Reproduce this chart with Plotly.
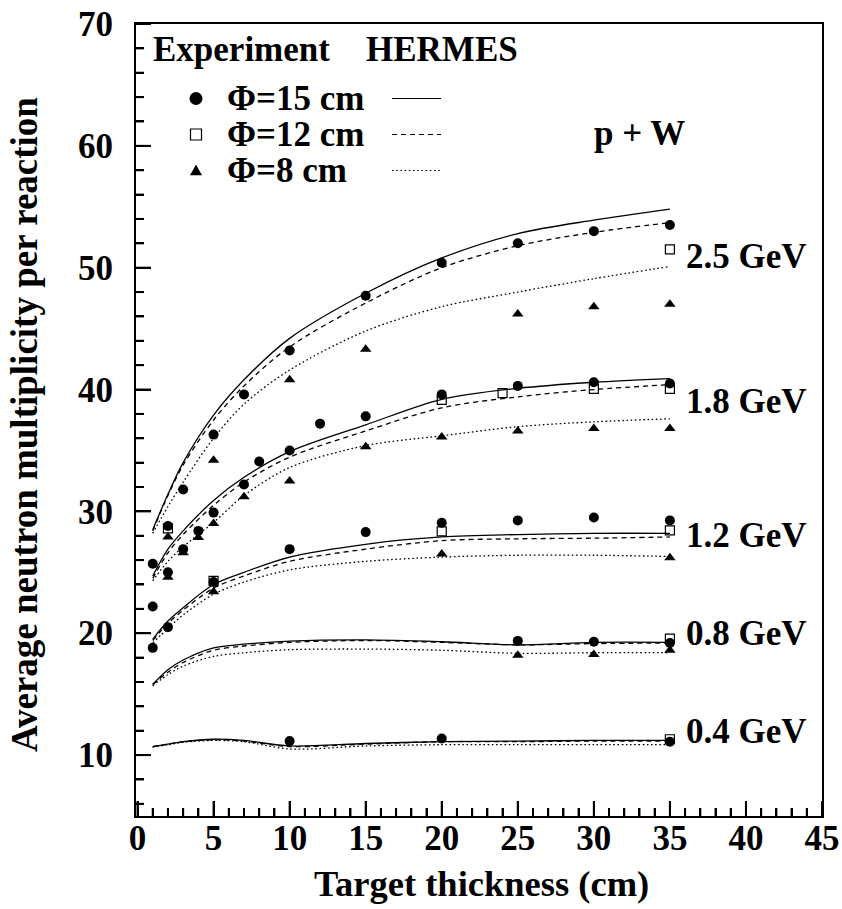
import plotly.graph_objects as go

# ---------------- data ----------------
CURVE_X = [1, 2, 3, 5, 7, 10, 15, 20, 25, 30, 35]

# model curves: solid = 15 cm, dashed = 12 cm, dotted = 8 cm
E25_15 = [28.5, 31.4, 34.0, 37.9, 40.8, 44.2, 47.9, 50.8, 52.8, 53.9, 54.8]
E25_12 = [28.4, 31.3, 33.8, 37.5, 40.3, 43.5, 47.1, 50.0, 51.8, 52.9, 53.7]
E25_8 = [28.2, 30.4, 32.4, 36.0, 38.8, 41.6, 44.8, 46.8, 48.0, 49.1, 50.1]

E18_15 = [24.7, 26.9, 28.4, 30.9, 32.8, 34.9, 37.1, 39.2, 40.1, 40.6, 40.9]
E18_12 = [24.5, 26.6, 28.1, 30.5, 32.4, 34.45, 36.6, 38.5, 39.4, 40.0, 40.4]
E18_8 = [24.3, 25.9, 27.1, 29.1, 31.3, 33.6, 35.4, 36.2, 36.95, 37.35, 37.6]

E12_15 = [19.5, 21.0, 22.1, 24.0, 25.0, 26.25, 27.3, 27.9, 28.1, 28.2, 28.2]
E12_12 = [19.4, 20.8, 21.9, 23.7, 24.7, 25.9, 26.9, 27.6, 27.75, 27.8, 27.9]
E12_8 = [19.2, 20.4, 21.5, 23.2, 24.2, 25.2, 25.9, 26.25, 26.4, 26.4, 26.3]

E08_15 = [15.8, 17.0, 17.8, 18.8, 19.1, 19.35, 19.45, 19.3, 19.05, 19.25, 19.25]
E08_12 = [15.8, 16.8, 17.6, 18.6, 18.95, 19.25, 19.4, 19.25, 19.05, 19.15, 19.2]
E08_8 = [15.7, 16.6, 17.3, 18.1, 18.4, 18.65, 18.7, 18.6, 18.35, 18.4, 18.4]

E04_15 = [10.7, 10.9, 11.1, 11.3, 11.2, 10.75, 10.95, 11.1, 11.15, 11.2, 11.2]
E04_12 = [10.7, 10.9, 11.1, 11.25, 11.15, 10.7, 10.9, 11.1, 11.1, 11.15, 11.15]
E04_8 = [10.65, 10.85, 11.05, 11.2, 11.1, 10.5, 10.75, 10.85, 10.85, 10.85, 10.85]

# experiment points (HERMES)
C25_X = [1, 2, 3, 5, 7, 10, 15, 20, 25, 30, 35]
C25_Y = [25.7, 28.8, 31.8, 36.3, 39.6, 43.2, 47.7, 50.4, 52.0, 53.0, 53.5]
S25_X = [2, 35]
S25_Y = [28.6, 51.5]
T25_X = [2, 5, 10, 15, 25, 30, 35]
T25_Y = [27.9, 34.2, 40.8, 43.3, 46.2, 46.8, 47.0]

C18_X = [1, 2, 3, 4, 5, 7, 8, 10, 12, 15, 20, 25, 30, 35]
C18_Y = [22.2, 25.0, 26.9, 28.4, 29.9, 32.2, 34.1, 35.0, 37.2, 37.8, 39.6, 40.3, 40.6, 40.5]
S18_X = [20, 24, 30, 35]
S18_Y = [39.15, 39.7, 40.05, 40.05]
T18_X = [2, 3, 4, 5, 7, 10, 15, 20, 25, 30, 35]
T18_Y = [24.6, 26.6, 27.85, 29.0, 31.2, 32.5, 35.3, 36.1, 36.6, 36.8, 36.8]

C12_X = [1, 2, 5, 10, 15, 20, 25, 30, 35]
C12_Y = [18.8, 20.5, 24.2, 26.9, 28.3, 29.07, 29.26, 29.5, 29.26]
S12_X = [5, 20, 35]
S12_Y = [24.3, 28.36, 28.44]
T12_X = [5, 20, 35]
T12_Y = [23.4, 26.5, 26.2]

C08_X = [25, 30, 35]
C08_Y = [19.37, 19.3, 19.2]
S08_X = [35]
S08_Y = [19.56]
T08_X = [25, 30, 35]
T08_Y = [18.2, 18.25, 18.6]

C04_X = [10, 20, 35]
C04_Y = [11.15, 11.36, 11.1]
S04_X = [35]
S04_Y = [11.3]

ENERGY_LABELS = ["2.5 GeV", "1.8 GeV", "1.2 GeV", "0.8 GeV", "0.4 GeV"]
LEGEND_LABELS = ["Φ=15 cm", "Φ=12 cm", "Φ=8 cm"]

# axis tick positions
X_MAJOR = [0, 5, 10, 15, 20, 25, 30, 35, 40, 45]
X_MINOR = [v for v in range(0, 46) if v % 5 != 0]
Y_MAJOR = [10, 20, 30, 40, 50, 60, 70]
Y_MINOR = [v for v in range(6, 70, 2) if v % 10 != 0]

# ---------------- layout geometry ----------------
W, H = 842, 909
L, R, T, B = 136, 822, 24, 816
FONT = "Liberation Serif"
FS = 35


def fx(px):
    return (px - L) / (R - L)


def fy(py):
    return (B - py) / (B - T)


fig = go.Figure()

LINE_W = 1.3
DASHES = {"solid": "solid", "dash": "5px,4px", "dot": "1.6px,2.6px"}

curves = [
    (E25_15, E25_12, E25_8),
    (E18_15, E18_12, E18_8),
    (E12_15, E12_12, E12_8),
    (E08_15, E08_12, E08_8),
    (E04_15, E04_12, E04_8),
]
for c15, c12, c8 in curves:
    for ys, d in ((c8, "dot"), (c12, "dash"), (c15, "solid")):
        fig.add_trace(go.Scatter(
            x=CURVE_X, y=ys, mode="lines",
            line=dict(color="black", width=LINE_W, dash=DASHES[d],
                      shape="spline", smoothing=0.9),
            showlegend=False, hoverinfo="skip"))

squares = [(S25_X, S25_Y), (S18_X, S18_Y), (S12_X, S12_Y), (S08_X, S08_Y), (S04_X, S04_Y)]
triangles = [(T25_X, T25_Y), (T18_X, T18_Y), (T12_X, T12_Y), (T08_X, T08_Y)]
circles = [(C25_X, C25_Y), (C18_X, C18_Y), (C12_X, C12_Y), (C08_X, C08_Y), (C04_X, C04_Y)]

for xs, ys in squares:
    fig.add_trace(go.Scatter(x=xs, y=ys, mode="markers",
                             marker=dict(symbol="square-open", size=9, color="black",
                                         line=dict(width=1.2, color="black")),
                             showlegend=False))
for xs, ys in triangles:
    fig.add_trace(go.Scatter(x=xs, y=ys, mode="markers",
                             marker=dict(symbol="triangle-up", size=10, color="black"),
                             showlegend=False))
for xs, ys in circles:
    fig.add_trace(go.Scatter(x=xs, y=ys, mode="markers",
                             marker=dict(symbol="circle", size=10, color="black"),
                             showlegend=False))

# ---------------- inside tick marks (left and bottom only) ----------------
MAJ_LEN, MIN_LEN = 15, 8
TICK_W = 2
for v in X_MAJOR + X_MINOR:
    ln = MAJ_LEN if v in X_MAJOR else MIN_LEN
    fig.add_shape(type="line", xref="x", yref="paper", x0=v, x1=v,
                  y0=0, y1=ln / (B - T), line=dict(color="black", width=TICK_W),
                  layer="above")
for v in Y_MAJOR + Y_MINOR:
    ln = MAJ_LEN if v in Y_MAJOR else MIN_LEN
    fig.add_shape(type="line", xref="paper", yref="y", x0=0, x1=ln / (R - L),
                  y0=v, y1=v, line=dict(color="black", width=TICK_W),
                  layer="above")

# ---------------- custom legend drawn with paper shapes ----------------
leg_rows = [98.5, 134.5, 170.5]
leg_dash = ["solid", "dash", "dot"]
MX = 196  # marker centre (px)


def px_path(points):
    return "M " + " L ".join(f"{fx(a):.5f},{fy(b):.5f}" for a, b in points) + " Z"


r = 6.5
fig.add_shape(type="circle", xref="paper", yref="paper",
              x0=fx(MX - r), x1=fx(MX + r), y0=fy(leg_rows[0] + r), y1=fy(leg_rows[0] - r),
              fillcolor="black", line=dict(color="black", width=0))
s = 5.5
fig.add_shape(type="rect", xref="paper", yref="paper",
              x0=fx(MX - s), x1=fx(MX + s), y0=fy(leg_rows[1] + s), y1=fy(leg_rows[1] - s),
              fillcolor="white", line=dict(color="black", width=1.2))
t = 6
fig.add_shape(type="path", xref="paper", yref="paper",
              path=px_path([(MX - t, leg_rows[2] + t * 0.8), (MX + t, leg_rows[2] + t * 0.8),
                            (MX, leg_rows[2] - t * 1.0)]),
              fillcolor="black", line=dict(color="black", width=0))

for py, dsh, lab in zip(leg_rows, leg_dash, LEGEND_LABELS):
    fig.add_shape(type="line", xref="paper", yref="paper",
                  x0=fx(392), x1=fx(441), y0=fy(py), y1=fy(py),
                  line=dict(color="black", width=1.1, dash=DASHES[dsh]))
    fig.add_annotation(text=f"<b>{lab}</b>", xref="paper", yref="paper",
                       x=fx(225), y=fy(py), xanchor="left", yanchor="middle",
                       showarrow=False, font=dict(family=FONT, size=FS, color="black"))

fig.add_annotation(text="<b>Experiment</b>", xref="paper", yref="paper",
                   x=fx(151), y=fy(49), xanchor="left", yanchor="middle",
                   showarrow=False, font=dict(family=FONT, size=FS, color="black"))
fig.add_annotation(text="<b>HERMES</b>", xref="paper", yref="paper",
                   x=fx(364), y=fy(49), xanchor="left", yanchor="middle",
                   showarrow=False, font=dict(family=FONT, size=FS, color="black"))
fig.add_annotation(text="<b>p + W</b>", xref="paper", yref="paper",
                   x=fx(592), y=fy(133), xanchor="left", yanchor="middle",
                   showarrow=False, font=dict(family=FONT, size=FS, color="black"))

for lab, py in zip(ENERGY_LABELS, [256.5, 401, 535, 633.5, 731]):
    fig.add_annotation(text=f"<b>{lab}</b>", xref="paper", yref="paper",
                       x=fx(684), y=fy(py), xanchor="left", yanchor="middle",
                       showarrow=False, font=dict(family=FONT, size=FS, color="black"))

# axis titles
fig.add_annotation(text="<b>Target thickness (cm)</b>", xref="paper", yref="paper",
                   x=fx(481), y=fy(883), xanchor="center", yanchor="middle",
                   showarrow=False, font=dict(family=FONT, size=36.5, color="black"))
fig.add_annotation(text="<b>Average neutron multiplicity per reaction</b>", xref="paper", yref="paper",
                   x=fx(25), y=fy(425), xanchor="center", yanchor="middle", textangle=-90,
                   showarrow=False, font=dict(family=FONT, size=37, color="black"))

tickfont = dict(family=FONT, size=FS, color="black", weight="bold")

fig.update_layout(
    width=W, height=H,
    margin=dict(l=L, r=W - R, t=T, b=H - B, pad=0, autoexpand=False),
    paper_bgcolor="white", plot_bgcolor="white",
    showlegend=False,
    xaxis=dict(range=[-0.1, 45], tickmode="array", tickvals=X_MAJOR,
               ticks="inside", ticklen=MAJ_LEN, tickwidth=TICK_W, tickcolor="black",
               minor=dict(tickvals=X_MINOR, ticks="inside", ticklen=MIN_LEN,
                          tickwidth=TICK_W, tickcolor="black"),
               showline=True, linewidth=1.8, linecolor="black", mirror=True,
               showgrid=False, zeroline=False,
               tickfont=tickfont, ticklabelstandoff=-10),
    yaxis=dict(range=[5, 70], tickmode="array", tickvals=Y_MAJOR,
               ticks="inside", ticklen=MAJ_LEN, tickwidth=TICK_W, tickcolor="black",
               minor=dict(tickvals=Y_MINOR, ticks="inside", ticklen=MIN_LEN,
                          tickwidth=TICK_W, tickcolor="black"),
               showline=True, linewidth=1.8, linecolor="black", mirror=True,
               showgrid=False, zeroline=False,
               tickfont=tickfont, ticklabelstandoff=14),
)

fig.write_html("out.html", config={"displayModeBar": False},
               post_script="document.body.style.margin='0';document.body.style.overflow='hidden';")
